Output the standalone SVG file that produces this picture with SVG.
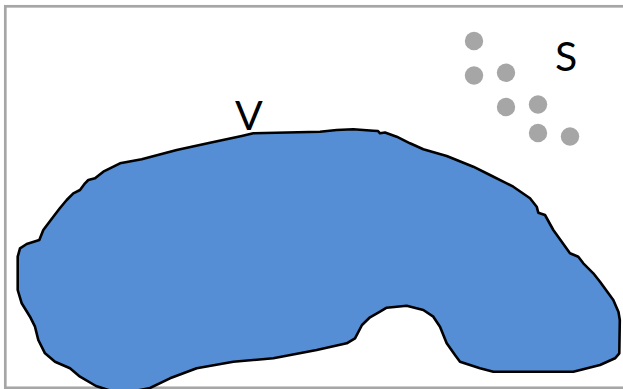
<svg xmlns="http://www.w3.org/2000/svg" width="623" height="389" viewBox="0 0 623 389">
<style>
.frame{fill:none;stroke:#A6A6A6;stroke-width:2.7}
.blob{fill:#558ED5;stroke:#000;stroke-width:2.6;stroke-linejoin:round}
.dot{fill:#A6A6A6}
.lbl{font-family:Lato,"Open Sans",sans-serif;font-size:41px;fill:#000}
</style>
<rect class="frame" x="5.3" y="6.3" width="630" height="381.5"/>
<g id="region-V">
<path class="blob" d="M253.3,133.3 L320,131.7 L336.7,130 L353.3,129.3 L373.3,130.7 L378,131 L380,133.3 L385,132.5 L396.7,136.7 L410,143.3 L423.3,149.3 L446.7,156 L473.3,166.7 L490,175 L506.7,183.3 L513.3,186.7 L530,198.3 L536.7,206.7 L538.3,212.7 L545,215 L553.3,230 L570,253.3 L578.3,256.7 L583.3,263.3 L593.3,273.3 L600,281.7 L613.3,300 L618.5,312 L619.8,320 L619.3,353.3 L615,358.3 L600,365 L573.3,371.7 L493.3,371.7 L480,368.3 L460,361.7 L455,355 L446.7,343.3 L440,326.7 L433.3,316.7 L423.3,310 L406.7,305.7 L386.7,307.7 L380,311.7 L370,317.3 L362,325 L355,338.3 L346.7,343.3 L316.7,350 L273.3,358.3 L233.3,361.7 L196.7,368.3 L170,378.3 L150,388 L135,391 L110,390.5 L96,386 L80,376.7 L70,368.3 L55,361.7 L45,353.3 L38.3,340 L35,326.7 L30,316.7 L21.7,303.3 L17.7,290 L17.7,256.7 L20,248.3 L26.7,244 L39.3,240 L43.3,230 L53.3,216.7 L60,208 L66.7,200 L73.3,193.3 L80,190 L85,183.3 L88.3,180 L95,178.3 L103.3,171.7 L120,163.3 L141.7,159.3 L176.7,150 L210,142.7 L241.7,136 Z"/>
<text class="lbl" x="249" y="130" text-anchor="middle">V</text>
</g>
<g id="set-S">
<circle class="dot" cx="474" cy="41" r="9.2"/>
<circle class="dot" cx="474" cy="75.5" r="9.2"/>
<circle class="dot" cx="506" cy="72.7" r="9.2"/>
<circle class="dot" cx="506" cy="107" r="9.2"/>
<circle class="dot" cx="538" cy="104.5" r="9.2"/>
<circle class="dot" cx="538" cy="133" r="9.2"/>
<circle class="dot" cx="570" cy="136.5" r="9.2"/>
<text class="lbl" x="566" y="71" text-anchor="middle">S</text>
</g>
<g id="connectors"/>
</svg>
